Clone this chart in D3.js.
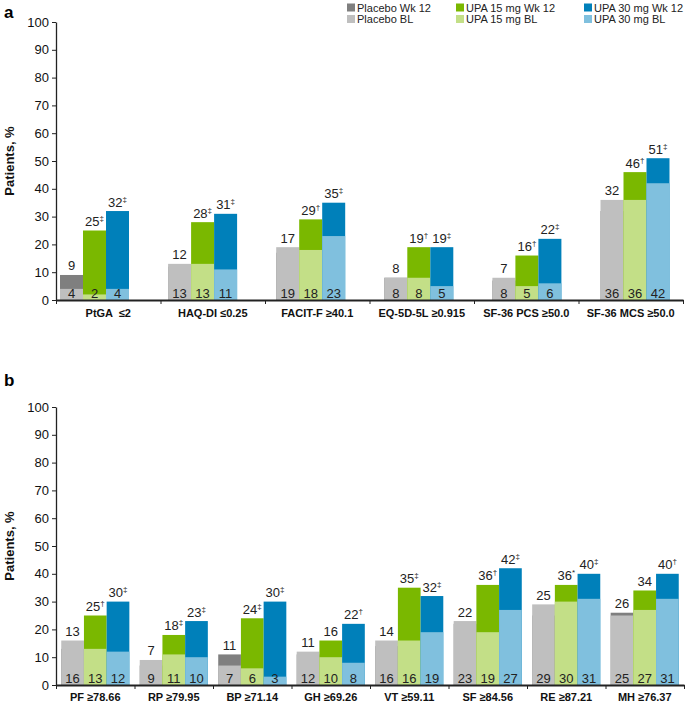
<!DOCTYPE html>
<html>
<head>
<meta charset="utf-8">
<style>
    body { margin: 0; background: white; }
    svg { font-family: Arial, 'Liberation Sans', sans-serif; }
    .tick text { font-size: 13px; fill: #111; }
    .domain, .tick line { stroke: #222; }
</style>
</head>
<body>
<svg width="685" height="704"></svg>

<script src="https://d3js.org/d3.v7.min.js"></script>
<script>
    // panel a
    let categoriesA = ["PtGA  \u22642", "HAQ-DI \u22640.25", "FACIT-F \u226540.1", "EQ-5D-5L \u22650.915", "SF-36 PCS \u226550.0", "SF-36 MCS \u226550.0"];
    let placeboWk12A = [9, 12, 17, 8, 7, 32];
    let placeboBLA = [4, 13, 19, 8, 8, 36];
    let upa15Wk12A = [25, 28, 29, 19, 16, 46];
    let upa15BLA = [2, 13, 18, 8, 5, 36];
    let upa30Wk12A = [32, 31, 35, 19, 22, 51];
    let upa30BLA = [4, 11, 23, 5, 6, 42];
    let upa15SupA = ["\u2021", "\u2021", "\u2020", "\u2020", "\u2020", "\u2020"];
    let upa30SupA = ["\u2021", "\u2021", "\u2021", "\u2021", "\u2021", "\u2021"];

    // panel b
    let categoriesB = ["PF \u226578.66", "RP \u226579.95", "BP \u226571.14", "GH \u226569.26", "VT \u226559.11", "SF \u226584.56", "RE \u226587.21", "MH \u226576.37"];
    let placeboWk12B = [13, 7, 11, 11, 14, 22, 25, 26];
    let placeboBLB = [16, 9, 7, 12, 16, 23, 29, 25];
    let upa15Wk12B = [25, 18, 24, 16, 35, 36, 36, 34];
    let upa15BLB = [13, 11, 6, 10, 16, 19, 30, 27];
    let upa30Wk12B = [30, 23, 30, 22, 32, 42, 40, 40];
    let upa30BLB = [12, 10, 3, 8, 19, 27, 31, 31];
    let upa15SupB = ["\u2020", "\u2021", "\u2021", "", "\u2021", "\u2020", "*", ""];
    let upa30SupB = ["\u2021", "\u2021", "\u2021", "\u2020", "\u2021", "\u2021", "\u2021", "\u2020"];

    let yTicks = [0, 10, 20, 30, 40, 50, 60, 70, 80, 90, 100];

    let legendNames = [["Placebo Wk 12", "Placebo BL"], ["UPA 15 mg Wk 12", "UPA 15 mg BL"], ["UPA 30 mg Wk 12", "UPA 30 mg BL"]];
    let darkColors = ["#7f7f7f", "#7ab800", "#0080ba"];
    let lightColors = ["#bfbfbf", "#c3df87", "#80c0de"];

    let svg = d3.select("svg");

    function drawPanel(p) {
        let g = svg.append("g");
        let n = p.categories.length;

        let y = d3.scaleLinear().domain([0, 100]).range([p.y0, p.y1]);
        // axis boundaries between groups
        let xEdge = d3.scaleLinear().domain([0, n]).range([p.x0, p.x1]);
        // centre of each cluster of 3 bars
        let xBars = d3.scalePoint().domain(p.categories).range(p.barRange);
        let bw = p.barWidth;

        let series = [
            { wk: p.placeboWk12, bl: p.placeboBL, sup: p.categories.map(() => "") },
            { wk: p.upa15Wk12, bl: p.upa15BL, sup: p.upa15Sup },
            { wk: p.upa30Wk12, bl: p.upa30BL, sup: p.upa30Sup }
        ];

        series.forEach((s, si) => {
            let sg = g.append("g");
            let xOf = (i) => xBars(p.categories[i]) + (si - 1.5) * bw;

            // week 12 first, baseline drawn over it
            sg.selectAll(".wk")
                .data(s.wk)
                .join("rect")
                .attr("x", (d, i) => xOf(i))
                .attr("width", bw)
                .attr("y", d => y(d))
                .attr("height", d => y(0) - y(d))
                .attr("fill", darkColors[si]);

            sg.selectAll(".bl")
                .data(s.bl)
                .join("rect")
                .attr("x", (d, i) => xOf(i))
                .attr("width", bw)
                .attr("y", d => y(d))
                .attr("height", d => y(0) - y(d))
                .attr("fill", lightColors[si]);

            // baseline values at the bottom
            sg.selectAll(".bltext")
                .data(s.bl)
                .join("text")
                .attr("x", (d, i) => xOf(i) + bw / 2)
                .attr("y", y(0) - 2.5)
                .attr("text-anchor", "middle")
                .style("font-size", "13px")
                .style("fill", "#222")
                .text(d => d);

            // week 12 values on top
            let top = sg.selectAll(".wktext")
                .data(s.wk)
                .join("text")
                .attr("x", (d, i) => xOf(i) + bw / 2)
                .attr("y", (d, i) => y(Math.max(d, s.bl[i])) - 4.5)
                .attr("text-anchor", "middle")
                .style("font-size", "13px")
                .style("fill", "#222");
            top.append("tspan").text(d => d);
            top.append("tspan")
                .attr("dy", -5)
                .style("font-size", "8px")
                .text((d, i) => s.sup[i]);
        });

        // y axis
        g.append("g")
            .attr("transform", "translate(" + p.x0 + ",0)")
            .call(d3.axisLeft(y).tickValues(yTicks).tickSize(4).tickSizeOuter(0).tickPadding(3))
            .call(a => a.select(".domain").attr("stroke-width", 1.3));

        // x axis
        let xa = g.append("g")
            .attr("transform", "translate(0," + y(0) + ")")
            .call(d3.axisBottom(xEdge).tickValues(d3.range(n + 1)).tickSize(4).tickSizeOuter(0).tickFormat(""));
        xa.select(".domain").attr("stroke-width", 1.8).attr("stroke", "#444");

        g.append("g")
            .selectAll("text")
            .data(p.categories)
            .join("text")
            .attr("x", (d, i) => xEdge(i + 0.5))
            .attr("y", p.labelY)
            .attr("text-anchor", "middle")
            .style("font-size", "11px")
            .style("font-weight", "bold")
            .style("white-space", "pre")
            .style("fill", "#111")
            .text(d => d);

        g.append("text")
            .attr("transform", "translate(13.5," + ((p.y0 + p.y1) / 2) + ") rotate(-90)")
            .attr("text-anchor", "middle")
            .style("font-size", "13px")
            .style("font-weight", "bold")
            .style("fill", "#111")
            .text("Patients, %");

        g.append("text")
            .attr("x", 4)
            .attr("y", p.letterY)
            .style("font-size", "17px")
            .style("font-weight", "bold")
            .text(p.letter);
    }

    drawPanel({
        letter: "a", letterY: 18,
        categories: categoriesA,
        placeboWk12: placeboWk12A, placeboBL: placeboBLA,
        upa15Wk12: upa15Wk12A, upa15BL: upa15BLA,
        upa30Wk12: upa30Wk12A, upa30BL: upa30BLA,
        upa15Sup: upa15SupA, upa30Sup: upa30SupA,
        y0: 300, y1: 22, x0: 56, x1: 683,
        barRange: [94.5, 635], barWidth: 23, labelY: 317
    });

    drawPanel({
        letter: "b", letterY: 386,
        categories: categoriesB,
        placeboWk12: placeboWk12B, placeboBL: placeboBLB,
        upa15Wk12: upa15Wk12B, upa15BL: upa15BLB,
        upa30Wk12: upa30Wk12B, upa30BL: upa30BLB,
        upa15Sup: upa15SupB, upa30Sup: upa30SupB,
        y0: 685, y1: 407, x0: 56, x1: 684,
        barRange: [95.3, 644.7], barWidth: 22.7, labelY: 701
    });

    // legend
    let legend = svg.append("g");
    let colX = [347, 456, 584];
    legendNames.forEach((pair, ci) => {
        pair.forEach((name, ri) => {
            let ly = 7.5 + ri * 11.5;
            legend.append("rect")
                .attr("x", colX[ci])
                .attr("y", ly - 4)
                .attr("width", 8)
                .attr("height", 8)
                .attr("fill", ri === 0 ? darkColors[ci] : lightColors[ci]);
            legend.append("text")
                .attr("x", colX[ci] + 10)
                .attr("y", ly + 4)
                .style("font-size", "11px")
                .style("fill", "#222")
                .text(name);
        });
    });
</script>
</body>
</html>
